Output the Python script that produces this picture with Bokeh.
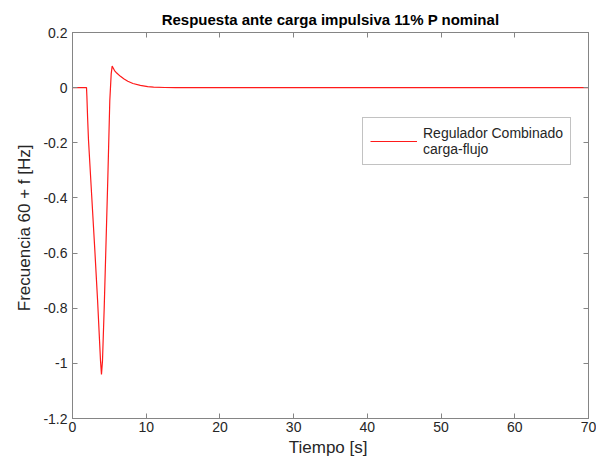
from bokeh.plotting import figure
from bokeh.models import Range1d, LinearAxis, FixedTicker, Legend, LegendItem, CustomJSTickFormatter
from bokeh.embed import file_html
from bokeh.resources import INLINE

# data
tiempo = [0.0, 1.9, 1.95, 2.05, 2.17, 2.6, 3.03, 3.4, 3.8, 3.93, 4.07, 4.3, 4.52, 4.8, 5.06, 5.25,
          5.38, 5.5, 5.7, 6.0, 6.5, 7.0, 7.5, 8.2, 9.2, 10.2, 11.0, 12.5, 14.0, 70.0]
frecuencia = [0.0, 0.0, -0.03, -0.11, -0.19, -0.39, -0.59, -0.77, -0.99, -1.04, -0.99, -0.80, -0.59, -0.32, -0.047, 0.05,
              0.078, 0.072, 0.062, 0.053, 0.041, 0.031, 0.023, 0.015, 0.008, 0.004, 0.002, 0.0005, 0.0, 0.0]
x_ticks = [0, 10, 20, 30, 40, 50, 60, 70]
y_ticks = [0.2, 0, -0.2, -0.4, -0.6, -0.8, -1, -1.2]
y_tick_labels = ["0.2", "0", "-0.2", "-0.4", "-0.6", "-0.8", "-1", "-1.2"]
titulo = "Respuesta ante carga impulsiva 11% P nominal"
serie = "Regulador Combinado\ncarga-flujo"

FONT = "Liberation Sans"
AX = "#858585"
TXT = "#262626"

p = figure(width=596, height=460, output_backend="svg", toolbar_location=None,
           x_range=Range1d(0, 70), y_range=Range1d(-1.2, 0.2),
           min_border_left=72, min_border_right=8, min_border_top=32, min_border_bottom=42)
p.title.text = titulo
p.title.align = "center"
p.title.text_font = FONT
p.title.text_font_size = "15px"
p.title.text_font_style = "bold"
p.title.text_color = "#000000"
p.xgrid.visible = False
p.ygrid.visible = False
p.outline_line_color = AX
p.background_fill_color = "white"
p.border_fill_color = "white"

r = p.line(tiempo, frecuencia, line_color="#ff1a1a", line_width=1.2)

def style(ax):
    ax.axis_line_color = AX
    ax.major_tick_line_color = AX
    ax.major_tick_in = 5
    ax.major_tick_out = 0
    ax.minor_tick_line_color = None
    ax.major_label_text_font = FONT
    ax.major_label_text_font_size = "14px"
    ax.major_label_text_color = TXT
    ax.axis_label_text_font = FONT
    ax.axis_label_text_font_size = "17px"
    ax.axis_label_text_font_style = "normal"
    ax.axis_label_text_color = TXT

xa = p.xaxis[0]
xa.ticker = FixedTicker(ticks=x_ticks)
xa.axis_label = "Tiempo  [s]"
style(xa)
xa.major_label_standoff = 3
xa.axis_label_standoff = 3

ya = p.yaxis[0]
ya.ticker = FixedTicker(ticks=y_ticks)
ya.major_label_overrides = {t: l for t, l in zip(y_ticks, y_tick_labels)}
ya.axis_label = "Frecuencia 60 + f  [Hz]"
style(ya)
ya.major_label_standoff = 5
ya.axis_label_standoff = 6

blank = CustomJSTickFormatter(code="return ''")
top = LinearAxis(ticker=FixedTicker(ticks=x_ticks), formatter=blank)
right = LinearAxis(ticker=FixedTicker(ticks=y_ticks), formatter=blank)
for a in (top, right):
    style(a)
    a.major_label_standoff = 0
p.add_layout(top, "above")
p.add_layout(right, "right")

legend = Legend(items=[LegendItem(label=serie, renderers=[r])], location=(290, 253))
legend.label_text_font = FONT
legend.label_text_font_size = "14px"
legend.label_text_color = TXT
legend.border_line_color = AX
legend.glyph_width = 47
legend.padding = 7
legend.margin = 0
legend.label_standoff = 6
p.add_layout(legend, "center")

open("out.html", "w").write(file_html(p, INLINE))
